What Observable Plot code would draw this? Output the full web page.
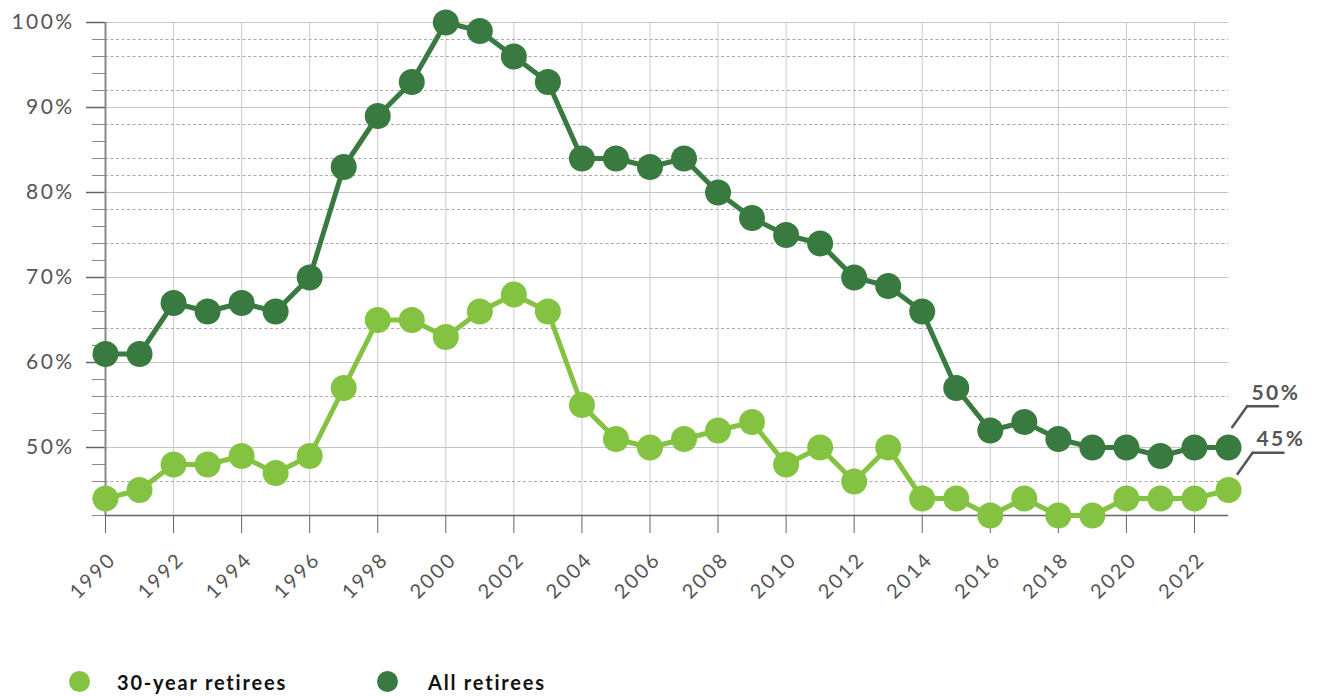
<!DOCTYPE html>
<html>
<head>
<meta charset="utf-8">
<script src="https://cdn.jsdelivr.net/npm/d3@7"></script>
<script src="https://cdn.jsdelivr.net/npm/@observablehq/plot@0.6"></script>
<style>
  html, body { margin: 0; padding: 0; background: #fff; }
  #wrap { position: relative; width: 1318px; height: 696px; overflow: hidden; }
  #chart svg { display: block; }
  #chart svg text { letter-spacing: 2.4px; }
  .leg { position: absolute; font-family: Lato, "Open Sans", sans-serif; font-weight: 700; font-size: 20px; letter-spacing: 1.8px; color: #111; line-height: 1; }
  .sw { position: absolute; width: 21px; height: 21px; border-radius: 50%; }
</style>
</head>
<body>
<div id="wrap">
  <div id="chart"></div>
  <div class="sw" style="left:69px; top:671px; background:#84c341;"></div>
  <div class="leg" style="left:117px; top:672px;">30-year retirees</div>
  <div class="sw" style="left:377px; top:671px; background:#397a40;"></div>
  <div class="leg" style="left:428px; top:672px;">All retirees</div>
</div>
<script>
const years = [1990,1991,1992,1993,1994,1995,1996,1997,1998,1999,2000,2001,2002,2003,2004,2005,2006,2007,2008,2009,2010,2011,2012,2013,2014,2015,2016,2017,2018,2019,2020,2021,2022,2023];
const allRetirees = [61,61,67,66,67,66,70,83,89,93,100,99,96,93,84,84,83,84,80,77,75,74,70,69,66,57,52,53,51,50,50,49,50,50];
const thirtyYear = [44,45,48,48,49,47,49,57,65,65,63,66,68,66,55,51,50,51,52,53,48,50,46,50,44,44,42,44,42,42,44,44,44,45];
const xTickYears = [1990,1992,1994,1996,1998,2000,2002,2004,2006,2008,2010,2012,2014,2016,2018,2020,2022];
const yLabelTicks = [50,60,70,80,90,100];
const yMinorTicks = [42,44,46,48,50,52,54,56,58,60,62,64,66,68,70,72,74,76,78,80,82,84,86,88,90,92,94,96,98,100];
const yDotted = [98,96,92,88,84,82,78,74,64,56,46];
const endLabelAll = [{year: 2023, value: 50, text: "50%"}];
const endLabelThirty = [{year: 2023, value: 45, text: "45%"}];

const darkGreen = "#397a40";
const lightGreen = "#84c341";

const allData = years.map((y, i) => ({year: y, value: allRetirees[i]}));
const thirtyData = years.map((y, i) => ({year: y, value: thirtyYear[i]}));

const lineShape = {draw(ctx, l) { ctx.moveTo(0, 0); ctx.lineTo(0, -l); }};

const chart = Plot.plot({
  width: 1318,
  height: 650,
  marginLeft: 105,
  marginRight: 90,
  marginTop: 22,
  marginBottom: 135,
  style: {fontFamily: "Lato, 'Open Sans', sans-serif", background: "#fff", overflow: "visible"},
  x: {domain: [1990, 2023], label: null},
  y: {domain: [42, 100], label: null},
  marks: [
    Plot.ruleX(xTickYears.slice(1), {x: d => d, y1: () => 42, y2: () => 100, stroke: "#cccccc", strokeWidth: 1}),
    Plot.ruleY(yDotted, {y: d => d, x1: () => 1990, x2: () => 2023, stroke: "#a8a8a8", strokeWidth: 1, strokeDasharray: "3,2.5"}),
    Plot.ruleY(yLabelTicks, {y: d => d, x1: () => 1990, x2: () => 2023, stroke: "#c4c4c4", strokeWidth: 1.2}),
    Plot.axisY({ticks: yMinorTicks, tickSize: 13, tickFormat: () => "", stroke: "#888", label: null}),
    Plot.axisY({ticks: yLabelTicks, tickSize: 19, tickFormat: () => "", stroke: "#666", strokeWidth: 1.5, label: null}),
    Plot.axisX({ticks: xTickYears, tickSize: 18, tickFormat: () => "", stroke: "#666", label: null}),
    Plot.ruleX([1990], {x: d => d, y1: () => 42, y2: () => 100, stroke: "#888", strokeWidth: 2}),
    Plot.ruleY([42], {y: d => d, x1: () => 1990, x2: () => 2023, stroke: "#666", strokeWidth: 1.5}),
    Plot.text(yLabelTicks, {x: () => 1990, y: d => d, text: d => d + "%", textAnchor: "end", dx: -31, fontSize: 21, fill: "#555"}),
    Plot.text(xTickYears, {x: d => d, y: () => 42, text: d => String(d), rotate: -45, textAnchor: "end", lineAnchor: "bottom", dx: 12, dy: 45, fontSize: 20, fill: "#555"}),
    Plot.line(thirtyData, {x: "year", y: "value", stroke: lightGreen, strokeWidth: 5}),
    Plot.line(allData, {x: "year", y: "value", stroke: darkGreen, strokeWidth: 5}),
    Plot.dot(thirtyData, {x: "year", y: "value", r: 13, fill: lightGreen}),
    Plot.dot(allData, {x: "year", y: "value", r: 13, fill: darkGreen}),
    Plot.vector(endLabelAll, {x: "year", y: "value", dx: 3.7, dy: -20.3, length: 26, rotate: 35.5, anchor: "start", shape: lineShape, stroke: "#555", strokeWidth: 2.5}),
    Plot.vector(endLabelAll, {x: "year", y: "value", dx: 18.7, dy: -41.3, length: 30.6, rotate: 90, anchor: "start", shape: lineShape, stroke: "#555", strokeWidth: 2.5}),
    Plot.text(endLabelAll, {x: "year", y: "value", text: "text", dx: 23, dy: -48, textAnchor: "start", lineAnchor: "bottom", fontSize: 21, fontWeight: 700, fill: "#555"}),
    Plot.vector(endLabelThirty, {x: "year", y: "value", dx: 9, dy: -16, length: 26, rotate: 35.5, anchor: "start", shape: lineShape, stroke: "#555", strokeWidth: 2.5}),
    Plot.vector(endLabelThirty, {x: "year", y: "value", dx: 24, dy: -37.3, length: 31, rotate: 90, anchor: "start", shape: lineShape, stroke: "#555", strokeWidth: 2.5}),
    Plot.text(endLabelThirty, {x: "year", y: "value", text: "text", dx: 28, dy: -44, textAnchor: "start", lineAnchor: "bottom", fontSize: 21, fontWeight: 700, fill: "#555"})
  ]
});
document.getElementById("chart").appendChild(chart);
</script>
</body>
</html>
